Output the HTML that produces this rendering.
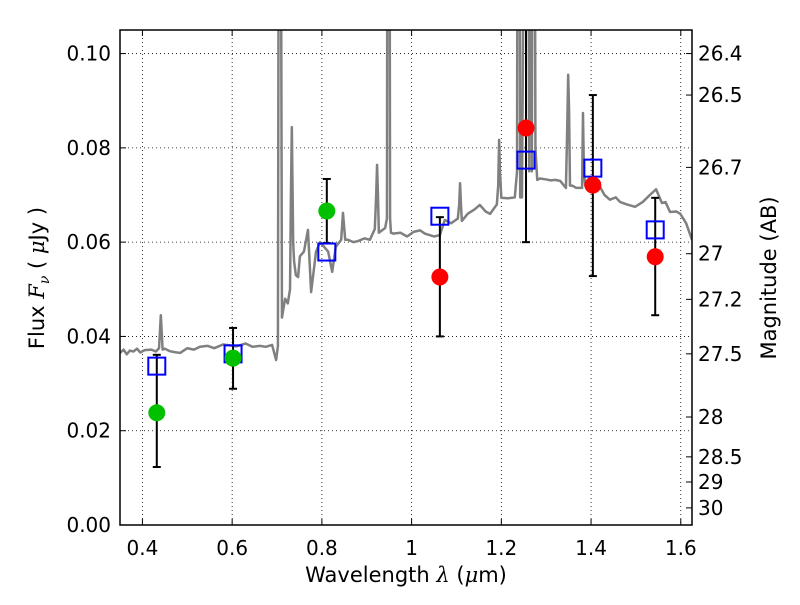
<!DOCTYPE html>
<html><head><meta charset="utf-8"><style>
body{margin:0;background:#fff}
svg text{font-family:"DejaVu Sans","Liberation Sans",sans-serif;fill:#000}
</style></head><body>
<svg id="chart" width="800" height="600" xmlns="http://www.w3.org/2000/svg">
<defs><clipPath id="clip"><rect x="120" y="30" width="572" height="495"/></clipPath></defs>
<rect x="0" y="0" width="800" height="600" fill="#fff"/>
<g id="grid"></g>
<g id="plot" clip-path="url(#clip)"></g>
<g id="axes"></g>
</svg>
<script>
const specLam = [0.35,0.358,0.365,0.372,0.38,0.388,0.395,0.405,0.42,0.43,0.437,0.441,0.445,0.45,0.46,0.47,0.484,0.50,0.515,0.528,0.545,0.56,0.58,0.595,0.61,0.63,0.645,0.662,0.675,0.689,0.698,0.702,0.705,0.707,0.711,0.718,0.724,0.729,0.731,0.733,0.736,0.738,0.742,0.747,0.751,0.760,0.769,0.776,0.787,0.796,0.814,0.823,0.831,0.843,0.847,0.852,0.858,0.870,0.880,0.895,0.907,0.918,0.921,0.923,0.925,0.927,0.941,0.945,0.947,0.950,0.952,0.954,0.959,0.975,0.99,1.005,1.019,1.03,1.04,1.05,1.063,1.074,1.088,1.103,1.106,1.108,1.110,1.112,1.125,1.141,1.152,1.165,1.175,1.190,1.193,1.195,1.197,1.200,1.202,1.215,1.230,1.235,1.237,1.240,1.242,1.246,1.255,1.259,1.262,1.264,1.266,1.268,1.271,1.273,1.276,1.280,1.286,1.30,1.31,1.32,1.331,1.344,1.347,1.349,1.351,1.353,1.358,1.367,1.380,1.382,1.384,1.387,1.398,1.410,1.420,1.430,1.442,1.455,1.465,1.480,1.498,1.515,1.531,1.545,1.558,1.566,1.576,1.590,1.599,1.612,1.625];
const specFlux = [0.0365,0.0372,0.0362,0.037,0.0368,0.0374,0.0366,0.0371,0.0372,0.0368,0.0375,0.0445,0.0372,0.0374,0.0369,0.0367,0.0365,0.0375,0.0372,0.0378,0.038,0.0375,0.0383,0.0381,0.0379,0.0385,0.0378,0.038,0.0378,0.0382,0.035,0.038,0.2,0.2,0.044,0.048,0.047,0.05,0.07,0.0844,0.06,0.056,0.053,0.0526,0.057,0.058,0.0626,0.0494,0.058,0.060,0.058,0.0537,0.059,0.0605,0.0662,0.0605,0.0605,0.0600,0.0602,0.0608,0.0605,0.0628,0.07,0.0764,0.07,0.062,0.063,0.065,0.2,0.2,0.065,0.062,0.0618,0.062,0.0612,0.0622,0.0625,0.0618,0.0615,0.0612,0.0615,0.0647,0.064,0.065,0.068,0.0725,0.068,0.0645,0.066,0.067,0.0679,0.0665,0.066,0.068,0.072,0.0817,0.075,0.0694,0.0694,0.0693,0.0695,0.075,0.2,0.2,0.0695,0.0695,0.2,0.2,0.075,0.2,0.2,0.075,0.2,0.2,0.08,0.0732,0.0735,0.0733,0.0731,0.0732,0.073,0.0715,0.085,0.0955,0.088,0.072,0.072,0.0715,0.0715,0.0874,0.075,0.072,0.0735,0.0725,0.0717,0.070,0.069,0.0695,0.0685,0.068,0.0675,0.0685,0.070,0.0712,0.0683,0.0685,0.0664,0.0665,0.066,0.064,0.0605];
const greenLam = [0.432,0.602,0.811];
const greenFlux = [0.0238,0.0354,0.0666];
const greenLo = [0.0123,0.0289,0.0598];
const greenHi = [0.0361,0.0418,0.0734];
const redLam = [1.063,1.255,1.404,1.543];
const redFlux = [0.0526,0.0842,0.0721,0.0569];
const redLo = [0.040,0.060,0.0528,0.0445];
const redHi = [0.0653,0.13,0.0912,0.0694];
const modelLam = [0.432,0.602,0.811,1.063,1.255,1.404,1.543];
const modelFlux = [0.0337,0.0363,0.0579,0.0655,0.0774,0.0757,0.0626];
const xTicks = [0.4,0.6,0.8,1.0,1.2,1.4,1.6];
const xTickLabels = ["0.4","0.6","0.8","1","1.2","1.4","1.6"];
const yTicks = [0,0.02,0.04,0.06,0.08,0.10];
const yTickLabels = ["0.00","0.02","0.04","0.06","0.08","0.10"];
const magTicks = [26.4,26.5,26.7,27,27.2,27.5,28,28.5,29,30];
const magTickLabels = ["26.4","26.5","26.7","27","27.2","27.5","28","28.5","29","30"];

const X0=120,X1=692,Y0=525,Y1=30,xmin=0.35,xmax=1.625,ymin=0,ymax=0.105;
const xs=v=>X0+(v-xmin)/(xmax-xmin)*(X1-X0);
const ys=v=>Y0-(v-ymin)/(ymax-ymin)*(Y0-Y1);
const NS="http://www.w3.org/2000/svg";
function mk(parent,tag,attrs){const e=document.createElementNS(NS,tag);for(const k in attrs)e.setAttribute(k,attrs[k]);parent.appendChild(e);return e;}
const grid=document.getElementById('grid'),plot=document.getElementById('plot'),axes=document.getElementById('axes');

xTicks.forEach(t=>{const l=mk(grid,'line',{x1:xs(t),x2:xs(t),y1:Y1,y2:Y0,stroke:'#000','stroke-width':0.8,'stroke-dasharray':'1,3'});

});
yTicks.forEach(t=>{const l=mk(grid,'line',{x1:X0,x2:X1,y1:ys(t),y2:ys(t),stroke:'#000','stroke-width':0.8,'stroke-dasharray':'1,3'});

});

const sp=mk(plot,'polyline',{points:specLam.map((l,i)=>xs(l)+','+ys(specFlux[i])).join(' '),fill:'none',stroke:'#808080','stroke-width':2.5,'stroke-linejoin':'round'});



function errbar(x,lo,hi){const g=mk(plot,'g',{stroke:'#000','stroke-width':2});


mk(g,'line',{x1:xs(x),x2:xs(x),y1:ys(lo),y2:ys(hi)});
mk(g,'line',{x1:xs(x)-4,x2:xs(x)+4,y1:ys(lo),y2:ys(lo)});
mk(g,'line',{x1:xs(x)-4,x2:xs(x)+4,y1:ys(hi),y2:ys(hi)});}
greenLam.forEach((l,i)=>errbar(l,greenLo[i],greenHi[i]));
redLam.forEach((l,i)=>errbar(l,redLo[i],redHi[i]));
modelLam.forEach((l,i)=>{const r=mk(plot,'rect',{x:xs(l)-8.5,y:ys(modelFlux[i])-8.5,width:17,height:17,fill:'none',stroke:'#0000ff','stroke-width':2});

});
greenLam.forEach((l,i)=>{const c=mk(plot,'circle',{cx:xs(l),cy:ys(greenFlux[i]),r:8.5,fill:'#00c000'});

});
redLam.forEach((l,i)=>{const c=mk(plot,'circle',{cx:xs(l),cy:ys(redFlux[i]),r:8.5,fill:'#ff0000'});

});

const fr=mk(axes,'rect',{x:X0,y:Y1,width:X1-X0,height:Y0-Y1,fill:'none',stroke:'#000','stroke-width':1.5});


xTicks.forEach((t,i)=>{mk(axes,'line',{x1:xs(t),x2:xs(t),y1:Y0,y2:Y0-6,stroke:'#000'});mk(axes,'line',{x1:xs(t),x2:xs(t),y1:Y1,y2:Y1+6,stroke:'#000'});
const tx=mk(axes,'text',{x:xs(t),y:Y0+30,'text-anchor':'middle','font-size':20});tx.textContent=xTickLabels[i];

});
yTicks.forEach((t,i)=>{mk(axes,'line',{x1:X0,x2:X0+6,y1:ys(t),y2:ys(t),stroke:'#000'});
const tx=mk(axes,'text',{x:X0-9,y:ys(t)+7,'text-anchor':'end','font-size':20});tx.textContent=yTickLabels[i];

});
magTicks.forEach((m,i)=>{const y=ys(Math.pow(10,(23.9-m)/2.5));mk(axes,'line',{x1:X1,x2:X1-6,y1:y,y2:y,stroke:'#000'});
const tx=mk(axes,'text',{x:X1+6,y:y+7,'font-size':20});tx.textContent=magTickLabels[i];

});
</script>
<svg style="position:absolute;left:0;top:0" width="800" height="600">
<text x="406" y="582" text-anchor="middle" font-size="21">Wavelength  <tspan font-family="DejaVu Serif" font-style="italic">λ</tspan> (<tspan font-family="DejaVu Serif" font-style="italic">μ</tspan>m)</text>
<text transform="translate(44,278) rotate(-90)" text-anchor="middle" font-size="21">Flux  <tspan font-family="DejaVu Serif" font-style="italic">F</tspan><tspan font-family="DejaVu Serif" font-style="italic" font-size="14" dy="5">ν</tspan><tspan dy="-5">  ( </tspan><tspan font-family="DejaVu Serif" font-style="italic">μ</tspan>Jy )</text>
<text transform="translate(776,278) rotate(-90)" text-anchor="middle" font-size="21">Magnitude (AB)</text>
</svg>
</body></html>
